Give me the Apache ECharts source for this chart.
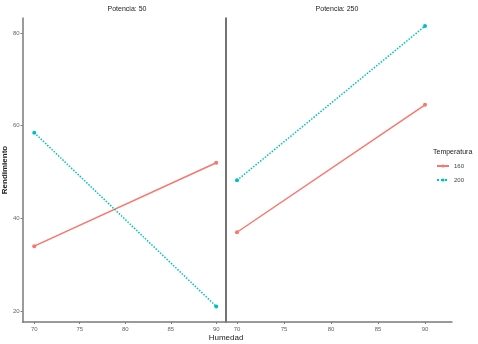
<!DOCTYPE html>
<html>
<head>
<meta charset="utf-8">
<script src="https://cdn.jsdelivr.net/npm/echarts@6/dist/echarts.min.js"></script>
<style>
  html, body { margin: 0; padding: 0; background: #fff; }
  #chart { width: 478px; height: 344px; }
</style>
</head>
<body>
<div id="chart"></div>
<script>
// data
const humedad = [70, 90];
const panels = ['Potencia: 50', 'Potencia: 250'];
const temperaturas = ['160', '200'];
const rend160P50 = [34, 52];
const rend200P50 = [58.5, 21];
const rend160P250 = [37, 64.5];
const rend200P250 = [48.2, 81.5];
const xTicks = [70, 75, 80, 85, 90];
const yTicks = [20, 40, 60, 80];

const red = '#F8766D';
const teal = '#00BFC4';
const font = '"Liberation Sans Narrow", "Liberation Sans", sans-serif';
const axisGrey = '#7a7a7a';

const chart = echarts.init(document.getElementById('chart'));

const pairs = arr => humedad.map((h, i) => [h, arr[i]]);

function xAxis(idx, min, max) {
  return {
    type: 'value', gridIndex: idx, min: min, max: max,
    splitLine: { show: false },
    axisLine: { show: true, lineStyle: { color: axisGrey, width: 1.5 } },
    axisTick: { show: true, customValues: xTicks, length: 2, lineStyle: { color: axisGrey } },
    axisLabel: { customValues: xTicks, color: '#666', fontSize: 6, fontFamily: font, margin: 4 }
  };
}

function lineSeries(name, idx, arr, color, dotted) {
  return {
    name: name, type: 'line', xAxisIndex: idx, yAxisIndex: idx,
    data: pairs(arr),
    symbol: 'circle', symbolSize: 4,
    itemStyle: { color: color },
    lineStyle: { color: color, width: 1.5, type: dotted ? 'dotted' : 'solid' },
    animation: false
  };
}

const option = {
  backgroundColor: '#fff',
  textStyle: { fontFamily: font },
  title: [
    { text: panels[0], left: 122, top: 1, textAlign: 'center', textStyle: { fontSize: 7, fontWeight: 'normal', color: '#222', fontFamily: font } },
    { text: panels[1], left: 332, top: 1, textAlign: 'center', textStyle: { fontSize: 7, fontWeight: 'normal', color: '#222', fontFamily: font } },
    { text: 'Temperatura', left: 428, top: 144, textStyle: { fontSize: 7, fontWeight: 'normal', color: '#222', fontFamily: font } }
  ],
  legend: {
    data: temperaturas,
    orient: 'vertical',
    left: 431, top: 158,
    itemWidth: 12, itemHeight: 4, itemGap: 8,
    textStyle: { fontSize: 6, color: '#444', fontFamily: font }
  },
  grid: [
    { left: 17, top: 18, width: 209, height: 304 },
    { left: 226, top: 18, width: 226, height: 304 }
  ],
  xAxis: [
    Object.assign(xAxis(0, 68.72, 91.07), {
      name: 'Humedad', nameLocation: 'end', nameGap: 0,
      nameTextStyle: { fontSize: 8, color: '#222', fontFamily: font, align: 'center', verticalAlign: 'top', padding: [12, 0, 0, 0] }
    }),
    xAxis(1, 68.83, 92.87)
  ],
  yAxis: [
    {
      type: 'value', gridIndex: 0, min: 17.63, max: 83.24,
      name: 'Rendimiento', nameLocation: 'middle', nameGap: 5,
      nameTextStyle: { fontSize: 8, color: '#222', fontWeight: 'bold', fontFamily: font },
      splitLine: { show: false },
      axisLine: { show: true, lineStyle: { color: axisGrey, width: 1.5 } },
      axisTick: { show: true, customValues: yTicks, length: 2, lineStyle: { color: axisGrey } },
      axisLabel: { customValues: yTicks, color: '#666', fontSize: 6, fontFamily: font, margin: 3 }
    },
    {
      type: 'value', gridIndex: 1, min: 17.63, max: 83.24,
      splitLine: { show: false },
      axisLine: { show: true, lineStyle: { color: '#444', width: 1.5 } },
      axisTick: { show: false },
      axisLabel: { show: false }
    }
  ],
  series: [
    lineSeries(temperaturas[0], 0, rend160P50, red, false),
    lineSeries(temperaturas[1], 0, rend200P50, teal, true),
    lineSeries(temperaturas[0], 1, rend160P250, red, false),
    lineSeries(temperaturas[1], 1, rend200P250, teal, true)
  ]
};

chart.setOption(option);
</script>
</body>
</html>
